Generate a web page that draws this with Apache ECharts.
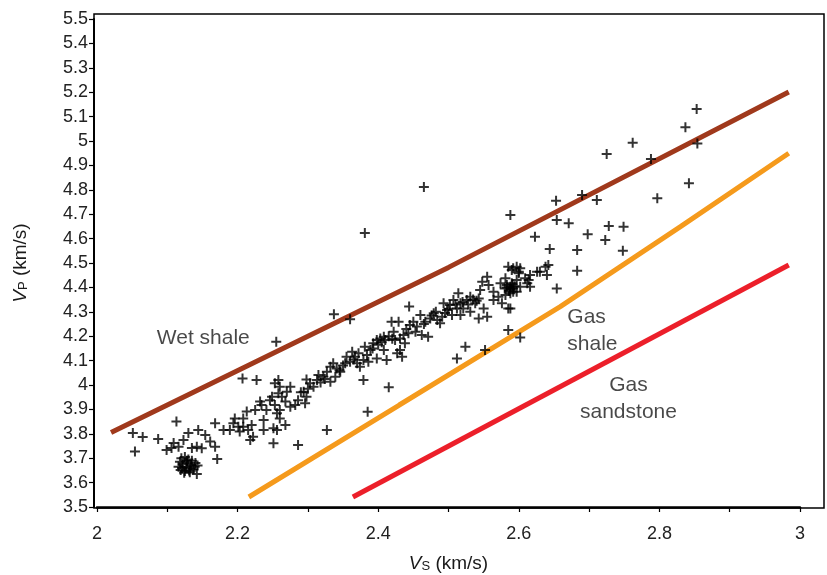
<!DOCTYPE html>
<html>
<head>
<meta charset="utf-8">
<script src="https://cdn.jsdelivr.net/npm/echarts@6/dist/echarts.min.js"></script>
<style>html,body{margin:0;padding:0;background:#fff}#c{width:827px;height:575px}</style>
</head>
<body>
<div id="c"></div>
<script>
// Measured points: V_S (km/s) and V_P (km/s)
const pointsVs = [
2.051,2.065,2.087,2.054,2.113,2.130,2.123,2.109,2.099,2.106,2.116,2.135,2.142,2.149,2.144,2.154,2.161,2.168,2.171,2.168,
2.120,2.125,2.130,2.135,2.118,2.122,2.128,2.134,2.140,2.116,2.121,2.127,2.133,2.139,2.119,2.125,2.131,2.137,2.128,2.124,2.132,2.143,2.142,
2.255,2.207,2.227,2.258,2.253,2.260,2.275,2.270,2.258,2.298,2.303,2.308,2.294,2.298,2.286,2.296,2.282,2.275,2.268,2.263,2.249,2.246,2.253,2.260,2.256,2.241,2.234,2.232,2.225,2.213,2.208,2.196,2.194,2.201,2.208,2.220,2.215,2.222,2.218,2.203,2.189,2.180,2.237,2.237,2.251,2.256,2.268,2.260,2.251,2.286,2.327,
2.313,2.315,2.322,2.327,2.332,2.336,2.341,2.346,2.339,2.332,2.353,2.355,2.363,2.360,2.367,2.370,2.374,2.379,2.384,2.389,2.381,2.393,2.398,2.403,2.408,2.386,2.398,2.379,2.427,
2.337,2.360,2.512,
2.415,2.444,2.419,2.429,2.422,2.431,2.424,2.410,2.408,2.412,2.436,2.445,2.450,2.453,2.443,2.438,2.431,2.434,2.460,2.462,2.471,2.467,2.474,2.479,2.484,2.488,2.491,2.493,2.498,2.502,2.507,2.514,2.517,2.512,2.505,2.517,2.521,2.526,2.531,2.538,2.543,2.545,2.548,2.555,2.557,2.550,2.543,2.555,2.531,2.564,2.571,2.564,2.574,2.581,2.583,2.590,2.592,2.588,2.585,2.597,2.602,2.609,2.612,2.585,2.590,2.597,2.600,2.616,2.626,2.638,2.640,2.654,2.585,2.602,2.524,2.552,
2.588,2.653,2.690,2.711,2.797,2.654,2.671,2.623,2.644,2.683,2.698,2.728,2.749,2.723,2.748,2.683,2.642,2.630,2.614,2.616,2.602,2.592,2.600,2.597,2.588,2.592,2.581,2.576,2.588,
2.583,2.588,2.594,2.586,2.580,2.591,
2.853,2.837,2.854,2.762,2.725,2.788,2.842,
2.465,2.381,2.385,
2.345,2.350,2.365,2.372,2.392,2.400,2.405,2.415,2.420,2.318,2.324,2.300,2.290,
2.476,2.482,2.495,2.500,2.510,2.520,2.528,2.535,2.540,2.455,2.465,2.440
];
const pointsVp = [
3.803,3.787,3.779,3.727,3.850,3.803,3.775,3.762,3.734,3.742,3.747,3.742,3.747,3.741,3.816,3.795,3.768,3.747,3.697,3.843,
3.700,3.705,3.695,3.690,3.685,3.675,3.680,3.672,3.680,3.665,3.660,3.665,3.658,3.665,3.652,3.648,3.650,3.655,3.690,3.640,3.642,3.670,3.635,
4.177,4.027,4.020,4.020,4.007,3.993,3.993,3.972,3.966,4.023,4.007,3.993,3.972,3.952,3.938,3.925,3.918,3.911,3.932,3.952,3.952,3.938,3.918,3.898,3.884,3.898,3.918,3.932,3.898,3.891,3.863,3.863,3.843,3.829,3.829,3.836,3.816,3.788,3.775,3.809,3.816,3.816,3.857,3.816,3.823,3.816,3.836,3.863,3.761,3.754,3.816,
4.020,4.041,4.034,4.054,4.075,4.089,4.068,4.054,4.034,4.013,4.089,4.116,4.136,4.095,4.116,4.089,4.075,4.102,4.123,4.143,4.157,4.171,4.184,4.191,4.198,4.095,4.109,4.020,4.130,
4.290,4.269,4.109,
3.991,4.322,4.259,4.259,4.218,4.191,4.184,4.184,4.143,4.102,4.205,4.246,4.259,4.218,4.212,4.171,4.143,4.116,4.287,4.205,4.198,4.259,4.273,4.294,4.266,4.253,4.280,4.335,4.307,4.328,4.348,4.376,4.335,4.314,4.287,4.287,4.314,4.348,4.362,4.335,4.355,4.389,4.423,4.444,4.410,4.314,4.273,4.280,4.300,4.382,4.362,4.348,4.417,4.437,4.410,4.417,4.396,4.376,4.314,4.382,4.403,4.437,4.417,4.485,4.471,4.485,4.464,4.451,4.464,4.485,4.451,4.396,4.225,4.195,4.157,4.143,
4.697,4.755,4.779,4.758,4.765,4.676,4.663,4.608,4.557,4.553,4.618,4.652,4.649,4.594,4.550,4.468,4.492,4.464,4.430,4.403,4.478,4.478,4.458,4.430,4.403,4.382,4.369,4.335,4.314,
4.400,4.392,4.405,4.386,4.395,4.412,
5.131,5.056,4.990,4.993,4.947,4.926,4.827,
4.811,4.623,3.890,
4.060,4.080,4.105,4.130,4.150,4.165,4.175,4.200,4.190,4.010,4.025,3.985,3.970,
4.285,4.300,4.295,4.312,4.330,4.340,4.330,4.350,4.345,4.240,4.250,4.230
];
// Trend lines
const wetShaleVs = [2.020, 2.500, 2.984];
const wetShaleVp = [3.805, 4.482, 5.201];
const gasShaleVs = [2.216, 2.430, 2.659, 2.830, 2.984];
const gasShaleVp = [3.541, 3.918, 4.321, 4.649, 4.950];
const gasSandVs = [2.364, 2.984];
const gasSandVp = [3.541, 4.492];
// Annotations
const annotNames = ['Wet shale', 'Gas\nshale', 'Gas\nsandstone'];
const annotVs = [2.085, 2.669, 2.756];
const annotVp = [4.193, 4.222, 3.944];
const annotAlign = ['left', 'left', 'center'];

const zip = (a, b) => a.map((v, i) => [v, b[i]]);
const FONT = '"Liberation Sans", Arial, Helvetica, sans-serif';
const plus = 'path://M8,0H12V20H8Z M0,8H20V12H0Z';

const nameRich = {
  i: {fontSize: 19, fontStyle: 'italic', fontFamily: FONT, color: '#1a1a1a', verticalAlign: 'bottom'},
  s: {fontSize: 13, fontFamily: FONT, color: '#1a1a1a', padding: [12, 0, 0, 0], verticalAlign: 'bottom'},
  n: {fontSize: 19, fontFamily: FONT, color: '#1a1a1a', verticalAlign: 'bottom'}
};

const chart = echarts.init(document.getElementById('c'), null, {renderer: 'canvas'});
chart.setOption({
  animation: false,
  backgroundColor: '#fff',
  textStyle: {fontFamily: FONT},
  grid: {left: 97, right: 27, top: 19, bottom: 68, containLabel: false, outerBoundsMode: 'none'},
  xAxis: {
    type: 'value', min: 2, max: 3, interval: 0.1,
    axisLine: {show: true, onZero: false, lineStyle: {color: '#000', width: 2.5}},
    axisTick: {show: true, length: 5, lineStyle: {color: '#000', width: 1.2}},
    splitLine: {show: false},
    axisLabel: {
      color: '#222', fontSize: 18, margin: 18, fontFamily: FONT,
      formatter: v => (Math.round(v * 10) % 2 === 0) ? String(Math.round(v * 10) / 10) : ''
    },
    name: '{i|V}{s|S}{n| (km/s)}',
    nameLocation: 'middle', nameGap: 41,
    nameTextStyle: {color: '#1a1a1a', fontFamily: FONT, rich: nameRich}
  },
  yAxis: {
    type: 'value', min: 3.5, max: 5.5, interval: 0.1, offset: 3,
    axisLine: {show: true, lineStyle: {color: '#000', width: 2}},
    axisTick: {show: true, length: 5, lineStyle: {color: '#000', width: 1.2}},
    splitLine: {show: false},
    axisLabel: {color: '#222', fontSize: 18, margin: 6, fontFamily: FONT,
      formatter: v => String(Math.round(v * 10) / 10)},
    name: '{i|V}{s|P}{n| (km/s)}',
    nameLocation: 'middle', nameGap: 64, nameRotate: 90,
    nameTextStyle: {color: '#1a1a1a', fontFamily: FONT, rich: nameRich}
  },
  graphic: [{
    type: 'rect', shape: {x: 94, y: 14, width: 730, height: 494},
    style: {fill: 'none', stroke: '#000', lineWidth: 1.5}, silent: true, z: 0
  }],
  series: [
    {type: 'line', data: zip(wetShaleVs, wetShaleVp), symbol: 'none', lineStyle: {color: '#A0391C', width: 5}, z: 2},
    {type: 'line', data: zip(gasShaleVs, gasShaleVp), symbol: 'none', lineStyle: {color: '#F59A1C', width: 5}, z: 2},
    {type: 'line', data: zip(gasSandVs, gasSandVp), symbol: 'none', lineStyle: {color: '#EC1F2A', width: 5}, z: 2},
    {type: 'scatter', data: zip(pointsVs, pointsVp), symbol: plus, symbolSize: 10,
      itemStyle: {color: '#000'}, z: 3},
    {type: 'scatter', symbolSize: 0, z: 4,
      data: annotNames.map((n, i) => ({
        name: n, value: [annotVs[i], annotVp[i]],
        label: {show: true, formatter: n, position: [0, 0], align: annotAlign[i], verticalAlign: 'middle',
          fontSize: 21, lineHeight: 27, color: '#1a1a1a', fontFamily: FONT}
      }))
    }
  ]
});
</script>
</body>
</html>
